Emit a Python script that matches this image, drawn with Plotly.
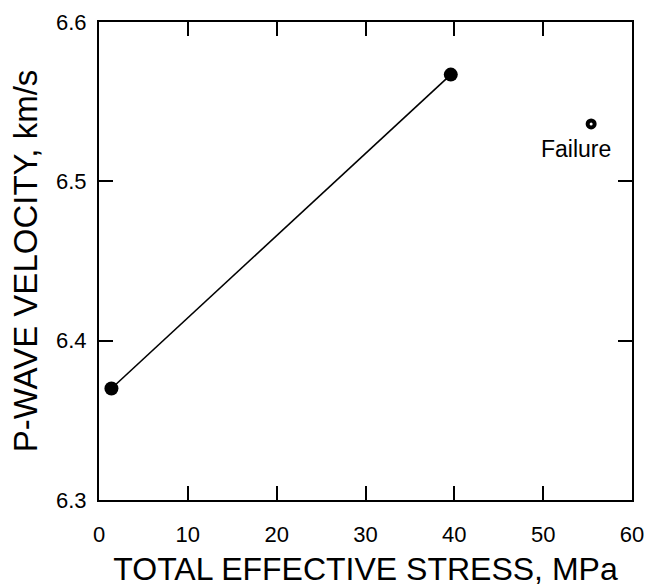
import plotly.graph_objects as go

# Data
stress_line = [1.4, 39.6]          # MPa
velocity_line = [6.370, 6.567]     # km/s
stress_failure = [55.4]
velocity_failure = [6.536]
failure_label = "Failure"
x_ticks = [0, 10, 20, 30, 40, 50, 60]
y_ticks = [6.3, 6.4, 6.5, 6.6]

FONT = "Liberation Sans, Arial, Helvetica, sans-serif"

fig = go.Figure()
fig.add_trace(go.Scatter(
    x=stress_line, y=velocity_line, mode="lines+markers",
    line=dict(color="black", width=1.6),
    marker=dict(color="black", size=14, symbol="circle"),
    showlegend=False,
))
fig.add_trace(go.Scatter(
    x=stress_failure, y=velocity_failure, mode="markers",
    marker=dict(color="white", size=7, symbol="circle",
                line=dict(color="black", width=4)),
    showlegend=False,
))
fig.add_annotation(x=stress_failure[0] - 1.7, y=velocity_failure[0] - 0.016,
                   text=failure_label, showarrow=False,
                   font=dict(family=FONT, size=23, color="black"))

axis_common = dict(
    showline=True, linecolor="black", linewidth=2, mirror="ticks",
    ticks="inside", ticklen=14, tickwidth=2, tickcolor="black",
    showgrid=False, zeroline=False, automargin=False,
    tickfont=dict(family=FONT, size=22, color="black"),
)

fig.update_xaxes(range=[0, 60], tickvals=x_ticks,
                 ticktext=[str(v) for v in x_ticks],
                 title=dict(text="TOTAL EFFECTIVE STRESS, MPa", standoff=16,
                            font=dict(family=FONT, size=32, color="black")),
                 ticklabelstandoff=14, **axis_common)
fig.update_yaxes(range=[6.3, 6.6], tickvals=y_ticks,
                 ticktext=[f"{v:.1f}" for v in y_ticks],
                 title=dict(text="P-WAVE VELOCITY, km/s", standoff=8,
                            font=dict(family=FONT, size=33, color="black")),
                 ticklabelstandoff=6, **axis_common)

fig.update_layout(
    width=645, height=587,
    margin=dict(l=99, r=13, t=22, b=87),
    plot_bgcolor="white", paper_bgcolor="white",
    font=dict(family=FONT, color="black"),
)

fig.write_html("out.html", config={"displayModeBar": False},
               post_script="document.body.style.margin='0px';document.body.style.overflow='hidden';")
